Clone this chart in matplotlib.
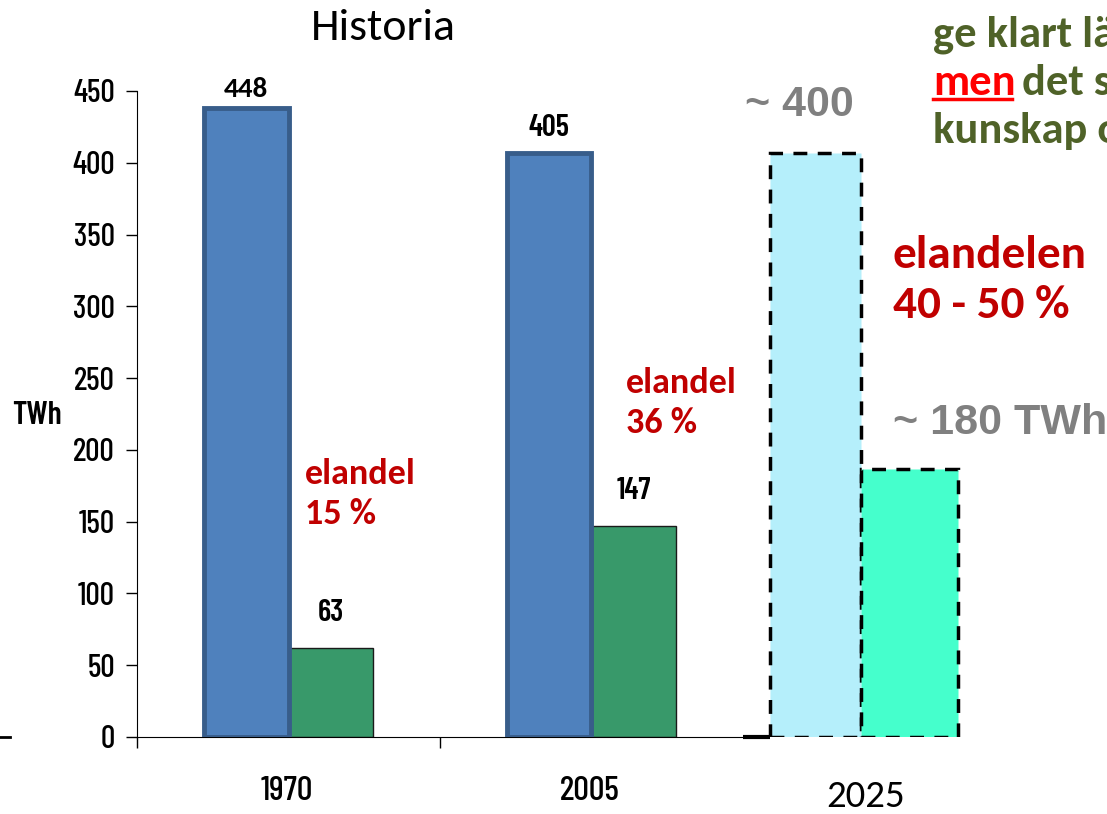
import matplotlib
matplotlib.use("Agg")
import matplotlib.pyplot as plt
from matplotlib.lines import Line2D

# ---- data ----
years = ["1970", "2005"]
total = [438, 407]          # bar heights as drawn
total_lbl = ["448", "405"]
el = [62, 147]
el_lbl = ["63", "147"]
future_year = "2025"
future_total = 407
future_el = 187
shares = ["elandel\n15 %", "elandel\n36 %"]

W, H = 1107, 814
fig = plt.figure(figsize=(W / 100, H / 100), dpi=100)

def fx(x):
    return x / W

def fy(y):
    return 1 - y / H

narrow = ["Barlow Condensed", "DejaVu Sans"]
calib = ["Carlito", "DejaVu Sans"]
arial = ["Liberation Sans", "DejaVu Sans"]

ax = fig.add_axes([fx(137), fy(737), 969.6 / W, 646 / H])
ax.set_xlim(0, 3.2)
ax.set_ylim(0, 450)

centers = [0.5, 1.5]
bw = 0.28
for i, c in enumerate(centers):
    ax.bar(c - bw / 2, total[i], width=bw, color="#4f81bd", edgecolor="#385d8a",
           linewidth=3.5, zorder=3)
    ax.bar(c + bw / 2, el[i], width=bw, color="#38996a", edgecolor="#1a1a1a",
           linewidth=1.0, zorder=2)
    if i == 0:
        ax.annotate(total_lbl[i], (c - bw / 2, total[i]), xytext=(0, 5),
                    textcoords="offset points", ha="center", va="bottom",
                    fontsize=21, fontweight="bold", family=calib)
    else:
        ax.annotate(total_lbl[i], (c - bw / 2, total[i]), xytext=(0, 8),
                    textcoords="offset points", ha="center", va="bottom",
                    fontsize=22, fontweight="semibold", family=narrow)
    ax.annotate(el_lbl[i], (c + bw / 2, el[i]), xytext=(0, 15),
                textcoords="offset points", ha="center", va="bottom",
                fontsize=22, fontweight="semibold", family=narrow)

# 2025 forecast bars (dashed)
fc = 2.39
ax.bar(fc - 0.15, future_total, width=0.30, color="#b5effb", edgecolor="black",
       linewidth=2.5, linestyle=(0, (4, 3)), zorder=3)
ax.bar(fc + 0.16, future_el, width=0.32, color="#45ffcc", edgecolor="black",
       linewidth=2.5, linestyle=(0, (4, 3)), zorder=3)

# axes styling
for s in ["top", "right"]:
    ax.spines[s].set_visible(False)
ax.spines["bottom"].set_bounds(0, 2.0)
ax.plot([2.0, 2.09], [0, 0], color="black", lw=3, solid_capstyle="butt",
        clip_on=False, zorder=4)
ax.set_yticks(range(0, 451, 50))
ax.tick_params(axis="y", length=8, width=1, direction="out", pad=8,
               labelsize=23)
for t in ax.get_yticklabels():
    t.set_family(narrow)
    t.set_fontweight("medium")
ax.set_xticks([0, 1])
ax.set_xticklabels([])
ax.tick_params(axis="x", length=8, width=1, direction="out")

# x labels
for i, c in enumerate(centers):
    ax.text(c - 0.005, -27, years[i], ha="center", va="top", fontsize=25,
            fontweight="medium", family=narrow)
ax.text(2.405, -30, future_year, ha="center", va="top", fontsize=28,
        family=calib)

# annotations
fig.text(fx(12), fy(415), "TWh", ha="left", va="center", fontsize=23,
         fontweight="semibold", family=narrow)
fig.text(fx(383), fy(28), "Historia", ha="center", va="center", fontsize=33,
         family=calib)

red = "#c00000"
fig.text(fx(305), fy(494), shares[0], ha="left", va="center", fontsize=26,
         fontweight="bold", color=red, family=calib, linespacing=1.3)
fig.text(fx(626), fy(403), shares[1], ha="left", va="center", fontsize=26,
         fontweight="bold", color=red, family=calib, linespacing=1.3)
fig.text(fx(893), fy(280), "elandelen\n40 - 50 %", ha="left", va="center",
         fontsize=34, fontweight="bold", color=red, family=calib,
         linespacing=1.3)

gray = "#808080"
fig.text(fx(745), fy(105), "~ 400", ha="left", va="center", fontsize=31,
         fontweight="bold", color=gray, family=arial)
fig.text(fx(893), fy(423), "~ 180 TWh", ha="left", va="center", fontsize=31,
         fontweight="bold", color=gray, family=arial)

olive = "#4f6228"
fig.text(fx(933), fy(35), "ge klart lä", ha="left", va="center", fontsize=32,
         fontweight="bold", color=olive, family=calib)
fig.text(fx(933), fy(83), "men", ha="left", va="center", fontsize=32,
         fontweight="bold", color="#ff0000", family=calib)
fig.text(fx(1022), fy(83), "det s", ha="left", va="center", fontsize=32,
         fontweight="bold", color=olive, family=calib)
fig.add_artist(Line2D([fx(933), fx(1012)], [fy(99), fy(99)], color="#ff0000",
                      lw=2.5))
fig.text(fx(933), fy(131), "kunskap o", ha="left", va="center", fontsize=32,
         fontweight="bold", color=olive, family=calib)

# small stray dash at left edge
fig.add_artist(Line2D([fx(0), fx(10)], [fy(737), fy(737)], color="black", lw=2))

fig.savefig("out.png", dpi=100)
